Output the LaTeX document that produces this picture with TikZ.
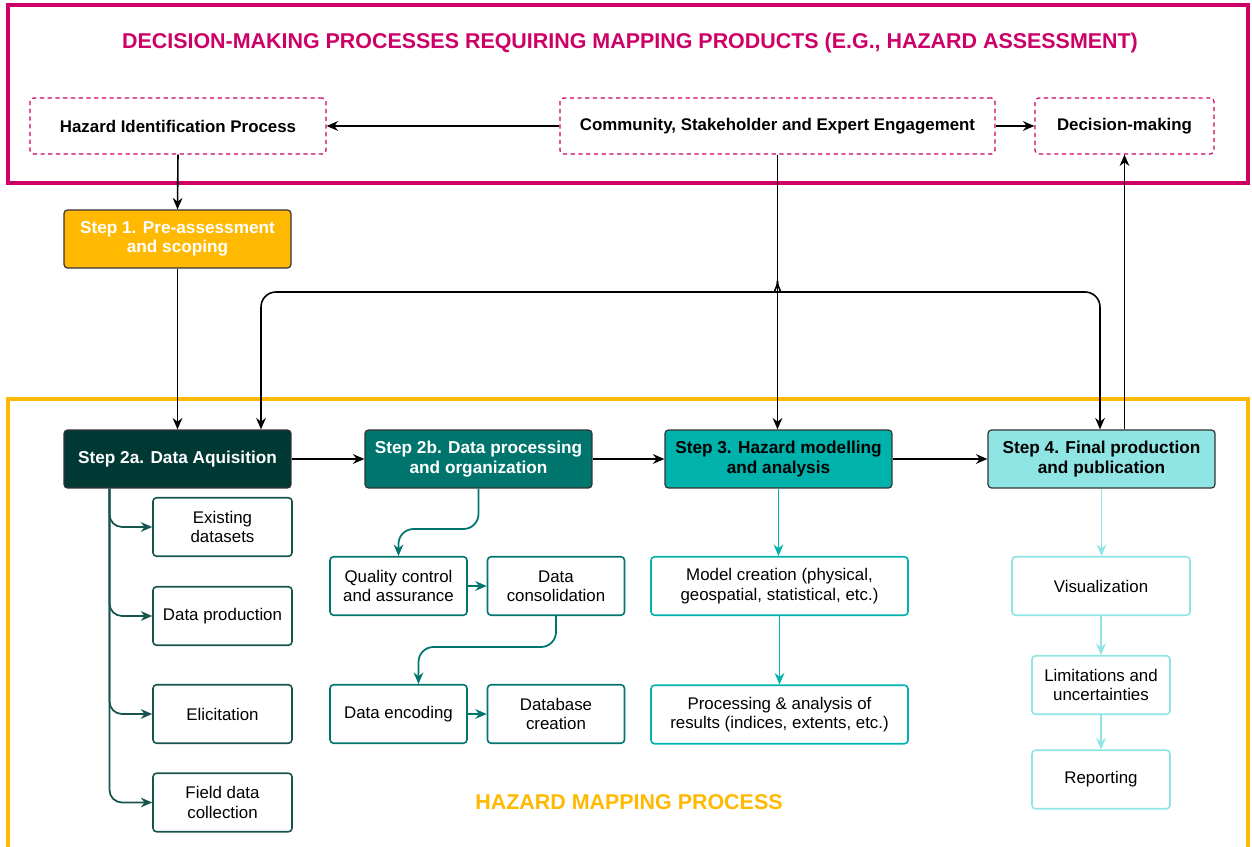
\documentclass[tikz,border=0pt]{standalone}
\usepackage{fontspec}
\setmainfont{Liberation Sans}
\usetikzlibrary{calc,arrows.meta}

\definecolor{magc}{RGB}{204,0,102}
\definecolor{orc}{RGB}{255,185,0}
\definecolor{tealA}{RGB}{0,56,52}
\definecolor{tealB}{RGB}{0,117,110}
\definecolor{tealC}{RGB}{0,178,172}
\definecolor{tealD}{RGB}{142,229,227}
\definecolor{lineA}{RGB}{24,84,78}

\tikzset{
	txt/.style={font=\fontsize{9.6}{11}\selectfont, align=center, inner sep=1pt},
	dashbox/.style={txt, font=\bfseries\fontsize{9.6}{11}\selectfont, draw=magc, line width=0.7pt, dash pattern=on 2.4pt off 2pt, rounded corners=2pt, minimum height=1.12cm},
	stepbox/.style={txt, font=\bfseries\fontsize{9.8}{11}\selectfont, draw=black!80, line width=0.7pt, rounded corners=2pt, minimum width=4.54cm, minimum height=1.16cm},
	subbox/.style={txt, line width=0.9pt, rounded corners=2pt, fill=white, minimum height=1.17cm},
	arr/.style={-{Stealth[length=6.5pt,width=5.5pt]}, line width=0.9pt, black},
	subarr/.style={-{Stealth[length=6.5pt,width=5.5pt]}, line width=1pt},
}

\begin{document}
\begin{tikzpicture}[x=0.02cm, y=-0.02cm]
			%%%%% START %%%%%
			\useasboundingbox (0,0) rectangle (1252,847);
			
			% frames
			\draw[magc, line width=2.4pt] (8,5) rectangle (1248,183);
			\draw[orc, line width=2.4pt] (8,870) -- (8,399) -- (1248,399) -- (1248,870);
			
			\node[txt, font=\bfseries\fontsize{12.2}{14}\selectfont, text=magc] (ttl) at (630,43) {DECISION-MAKING PROCESSES REQUIRING MAPPING PRODUCTS (E.G., HAZARD ASSESSMENT)};
			\node[txt, font=\bfseries\fontsize{12.2}{14}\selectfont, text=orc] (hmp) at (629,802) {HAZARD MAPPING PROCESS};
			
			% decision-making row
			\node[dashbox, minimum width=5.92cm] (hip) at (178,126) {Hazard Identification Process};
			\node[dashbox, minimum width=8.7cm] (comm) at (777.5,126) {Community, Stakeholder and Expert Engagement};
			\node[dashbox, minimum width=3.58cm] (dec) at (1124.5,126) {Decision-making};
			
			% steps
			\node[stepbox, fill=orc, text=white] (s1) at (177.5,239) {Step 1. Pre-assessment\\and scoping};
			\node[stepbox, fill=tealA, text=white] (s2a) at (177.5,459) {Step 2a. Data Aquisition};
			\node[stepbox, fill=tealB, text=white] (s2b) at (478.5,459) {Step 2b. Data processing\\and organization};
			\node[stepbox, fill=tealC, text=black] (s3) at (778.5,459) {Step 3. Hazard modelling\\and analysis};
			\node[stepbox, fill=tealD, text=black] (s4) at (1101.5,459) {Step 4. Final production\\and publication};
			
			% sub boxes
			\node[subbox, draw=lineA, minimum width=2.78cm] (ex) at (222.5,527) {Existing\\datasets};
			\node[subbox, draw=lineA, minimum width=2.78cm] (dp) at (222.5,616) {Data production};
			\node[subbox, draw=lineA, minimum width=2.78cm] (el) at (222.5,714) {Elicitation};
			\node[subbox, draw=lineA, minimum width=2.78cm] (fd) at (222.5,802.5) {Field data\\collection};
			
			\node[subbox, draw=tealB, minimum width=2.74cm] (qc) at (398.5,586) {Quality control\\and assurance};
			\node[subbox, draw=tealB, minimum width=2.74cm] (dc) at (556,586) {Data\\consolidation};
			\node[subbox, draw=tealB, minimum width=2.74cm] (de) at (398.5,714) {Data encoding};
			\node[subbox, draw=tealB, minimum width=2.74cm] (db) at (556,714) {Database\\creation};
			
			\node[subbox, draw=tealC, minimum width=5.14cm] (mc) at (779.5,586) {Model creation (physical,\\geospatial, statistical, etc.)};
			\node[subbox, draw=tealC, minimum width=5.14cm] (pa) at (779.5,714.5) {Processing \& analysis of\\results (indices, extents, etc.)};
			
			\node[subbox, draw=tealD, minimum width=3.56cm] (vis) at (1101,586) {Visualization};
			\node[subbox, draw=tealD, minimum width=2.76cm] (lim) at (1101,685) {Limitations and\\uncertainties};
			\node[subbox, draw=tealD, minimum width=2.76cm] (rep) at (1101,779.5) {Reporting};
			
			% black connectors
			\draw[arr] (comm.west) -- (hip.east);
			\draw[arr] (comm.east) -- (dec.west);
			\draw[arr] (hip.south) -- (s1.north);
			\draw[arr] (s1.south) -- (s1.south |- s2a.north);
			\draw[arr] (comm.south) -- (comm.south |- s3.north);
			\draw[arr] (dec.south |- s4.north) -- (dec.south);
			\draw[arr] (s2a.east) -- (s2b.west);
			\draw[arr] (s2b.east) -- (s3.west);
			\draw[arr] (s3.east) -- (s4.west);
			
			\coordinate (j) at (777.5,281);
			\coordinate (a2) at (261,0);
			\coordinate (a4) at (1100,0);
			\draw[arr, rounded corners=0.3cm] (j) .. controls (777.5,290) and (771,292) .. (762,292) -| (a2 |- s2a.north);
			\draw[arr, rounded corners=0.3cm] (j) .. controls (777.5,290) and (784,292) .. (793,292) -| (a4 |- s4.north);
			
			% step 2a branches
			\coordinate (t) at (109.5,0);
			\foreach \b in {ex,dp,el,fd}
				\draw[subarr, lineA, rounded corners=0.25cm] (t |- s2a.south) |- (\b.west);
			
			% step 2b
			\coordinate (m1) at (0,529);
			\coordinate (m2) at (0,647);
			\draw[subarr, tealB, rounded corners=0.3cm] (s2b.south) -- (s2b.south |- m1) -| (qc.north);
			\draw[subarr, tealB] (qc.east) -- (dc.west);
			\draw[subarr, tealB, rounded corners=0.3cm] (dc.south) -- (dc.south |- m2) -| ($(de.north)+(20,0)$);
			\draw[subarr, tealB] (de.east) -- (db.west);
			
			% step 3 and 4
			\draw[subarr, tealC] (s3.south) -- (s3.south |- mc.north);
			\draw[subarr, tealC] (mc.south) -- (pa.north);
			\draw[subarr, tealD] (s4.south) -- (s4.south |- vis.north);
			\draw[subarr, tealD] (vis.south) -- (lim.north);
			\draw[subarr, tealD] (lim.south) -- (rep.north);
			
			%%%%% END %%%%%
\end{tikzpicture}
\end{document}
